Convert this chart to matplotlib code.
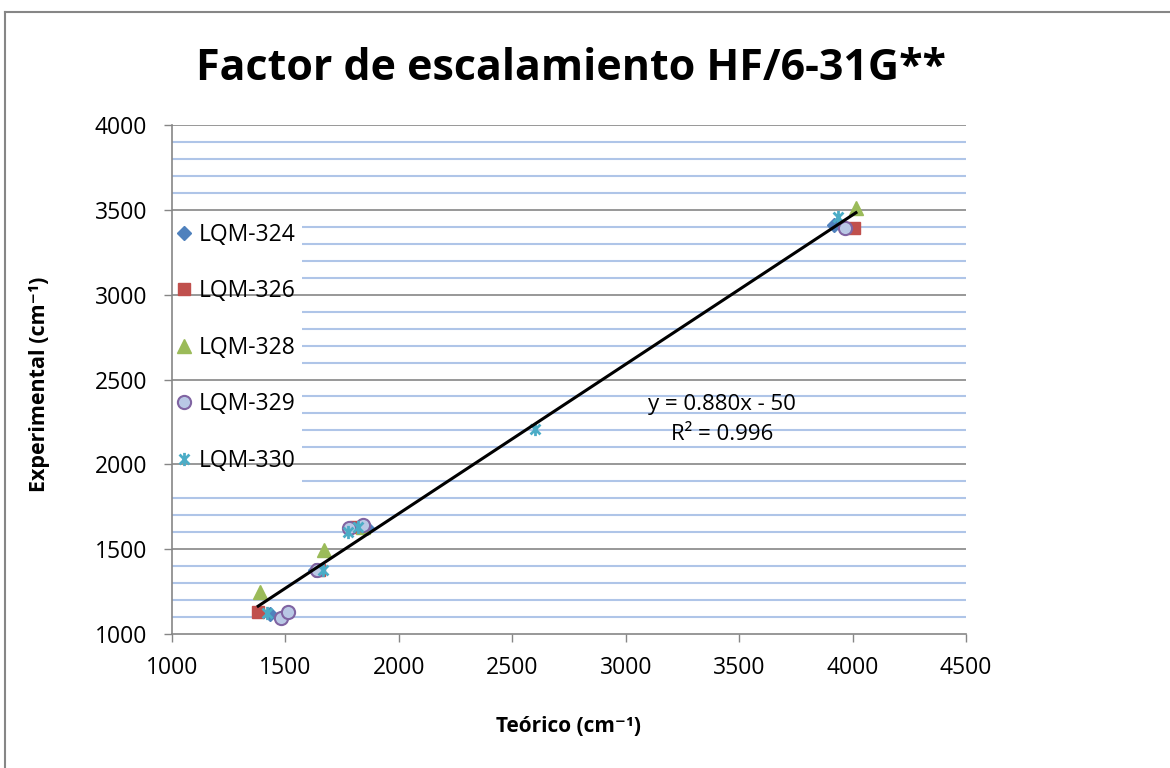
import matplotlib
matplotlib.use("Agg")
import matplotlib.pyplot as plt
import numpy as np
from matplotlib.path import Path
from matplotlib.patches import Rectangle
from matplotlib.lines import Line2D

plt.rcParams['font.family'] = ['Open Sans', 'DejaVu Sans']

# ---- data ----
series_names = ["LQM-324", "LQM-326", "LQM-328", "LQM-329", "LQM-330"]
x_324 = [1430, 1630, 1860, 3920]
y_324 = [1115, 1375, 1625, 3410]
x_326 = [1380, 1650, 1810, 4005]
y_326 = [1130, 1380, 1630, 3395]
x_328 = [1390, 1670, 1840, 4015]
y_328 = [1245, 1495, 1630, 3510]
x_329 = [1480, 1510, 1640, 1780, 1840, 3965]
y_329 = [1095, 1130, 1380, 1625, 1645, 3390]
x_330 = [1420, 1665, 1775, 1820, 2600, 3935]
y_330 = [1125, 1375, 1600, 1630, 2210, 3460]
fit_slope = 0.880
fit_intercept = -50
fit_r2 = 0.996
title = "Factor de escalamiento HF/6-31G**"
xlabel = "Teórico (cm⁻¹)"
ylabel = "Experimental (cm⁻¹)"
x_ticks = [1000, 1500, 2000, 2500, 3000, 3500, 4000, 4500]
y_ticks = [1000, 1500, 2000, 2500, 3000, 3500, 4000]

W, H = 1170, 768
fig = plt.figure(figsize=(W / 100, H / 100), dpi=100)

# outer chart border
fig.add_artist(Line2D([5 / W, 5 / W], [0, 1 - 12 / H], color='#868686', lw=1.5))
fig.add_artist(Line2D([5 / W, 1], [1 - 12 / H, 1 - 12 / H], color='#868686', lw=1.5))

L, R, T, B = 172, 966, 125, 634
ax = fig.add_axes([L / W, 1 - B / H, (R - L) / W, (B - T) / H])
ax.set_xlim(1000, 4500)
ax.set_ylim(1000, 4000)
ax.set_xticks(x_ticks)
ax.set_yticks(y_ticks)
ax.set_yticks(np.arange(1100, 4000, 100), minor=True)
ax.tick_params(axis='y', which='minor', length=0)
ax.tick_params(axis='both', which='major', direction='out', length=6, width=1,
               color='#868686', labelsize=16.5, labelcolor='black')
ax.tick_params(axis='y', pad=12)
ax.tick_params(axis='x', pad=10)
for s in ['top', 'right']:
    ax.spines[s].set_visible(False)
for s in ['left', 'bottom']:
    ax.spines[s].set_color('#868686')
    ax.spines[s].set_linewidth(1.2)

# minor gridlines
ax.set_axisbelow(True)
ax.yaxis.grid(True, which='minor', color='#AFC5E8', lw=1.5, zorder=0.5)
# white legend background covering minor gridlines
ax.add_patch(Rectangle((1002, 1850), 571, 1620, facecolor='white', edgecolor='none', zorder=0.8))
# major gridlines
for yv in y_ticks[1:]:
    ax.axhline(yv, color='#868686', lw=1.2, zorder=1)

# custom asterisk marker (Excel star)
star = Path([(0, -1), (0, 1), (-0.75, -0.75), (0.75, 0.75), (-0.75, 0.75), (0.75, -0.75)],
            [Path.MOVETO, Path.LINETO, Path.MOVETO, Path.LINETO, Path.MOVETO, Path.LINETO])

ax.plot(x_324, y_324, linestyle='none', marker='D', ms=7.5, color='#4F81BD', mec='#4F81BD',
        label=series_names[0], zorder=3)
ax.plot(x_326, y_326, linestyle='none', marker='s', ms=9, color='#C0504D', mec='#C0504D',
        label=series_names[1], zorder=3)
ax.plot(x_328, y_328, linestyle='none', marker='^', ms=10, color='#9BBB59', mec='#9BBB59',
        label=series_names[2], zorder=3)
ax.plot(x_329, y_329, linestyle='none', marker='o', ms=9.5, mfc='#B9C8E5', mec='#8064A2', mew=1.5,
        label=series_names[3], zorder=3)
ax.plot(x_330, y_330, linestyle='none', marker=star, ms=9.5, color='#4BACC6', mew=2,
        label=series_names[4], zorder=3)

# trend line
all_x = x_324 + x_326 + x_328 + x_329 + x_330
xs = np.array([min(all_x), max(all_x)])
ax.plot(xs, fit_slope * xs + fit_intercept, color='black', lw=2.2, zorder=4)

ax.text(3425, 2355, f"y = {fit_slope:.3f}x - {abs(fit_intercept)}", ha='center', va='center',
        fontsize=16, zorder=5)
ax.text(3425, 2175, f"R² = {fit_r2:.3f}", ha='center', va='center', fontsize=16, zorder=5)

leg = ax.legend(loc='upper left', bbox_to_anchor=(-0.01, 0.826), frameon=False, fontsize=16.5,
                handlelength=0.9, handletextpad=0.2, labelspacing=1.42, borderaxespad=0)
for t in leg.get_texts():
    t.set_color('black')

fig.text(571 / W, 1 - 68 / H, title, ha='center', va='center', fontsize=31, fontweight='bold')
fig.text(568 / W, 1 - 727 / H, xlabel, ha='center', va='center', fontsize=15, fontweight='bold')
fig.text(40 / W, 1 - 384 / H, ylabel, ha='center', va='center', rotation=90, fontsize=15.5,
         fontweight='bold')

fig.savefig("out.png", dpi=100)
